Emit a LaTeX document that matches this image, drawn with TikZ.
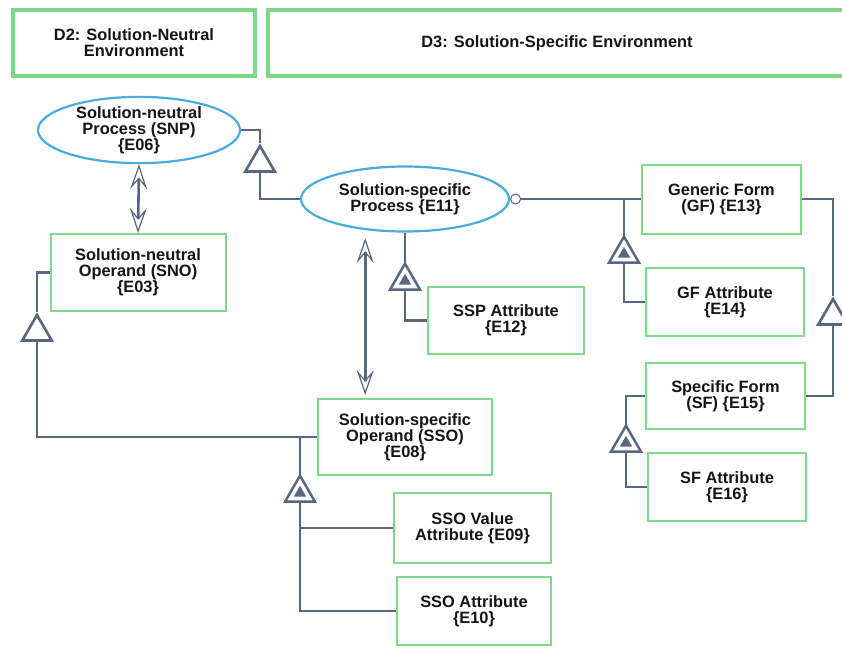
\documentclass[tikz,border=0pt]{standalone}
\usepackage{fontspec}
\setmainfont{Liberation Sans}
\usetikzlibrary{shapes.geometric,arrows.meta,backgrounds}
\definecolor{envgreen}{RGB}{122,216,134}
\definecolor{boxgreen}{RGB}{128,218,140}
\definecolor{procblue}{RGB}{72,172,222}
\definecolor{linkgray}{RGB}{88,103,128}
\definecolor{txtblack}{RGB}{20,20,20}

\begin{document}
\begin{tikzpicture}[x=1pt,y=-1pt]
        \tikzset{
            every node/.style={font=\bfseries\fontsize{16.4}{15.8}\selectfont,text=txtblack,align=center,inner sep=0pt},
            style env/.style={draw=envgreen,line width=4pt,minimum height=66pt},
            style object/.style={draw=boxgreen,line width=2pt,fill=white},
            style process/.style={ellipse,draw=procblue,line width=2.2pt,fill=white},
            style link/.style={draw=linkgray,line width=2.6pt},
            style assoc/.style={style link,{Stealth[open,length=25pt,width=17pt,inset=10pt,line width=1.2pt]}-{Stealth[open,length=25pt,width=17pt,inset=10pt,line width=1.2pt]}},
            style spec/.style={regular polygon,regular polygon sides=3,minimum size=34pt,draw=linkgray,line width=2.6pt,fill=white},
            style aggr/.style={regular polygon,regular polygon sides=3,minimum size=22pt,draw=linkgray,line width=2.6pt,fill=linkgray,double=white,double distance=3.6pt},
            style ring/.style={circle,minimum size=10pt,draw=linkgray,line width=1pt,fill=white}
        };
        \useasboundingbox (0,0) rectangle (842,648);

        \node[style env,minimum width=242pt] (d2) at (134,43) {D2: Solution-Neutral\\Environment};
        \node[style env,minimum width=578pt] (d3) at (557,43) {D3: Solution-Specific Environment};

        \node[style process,minimum width=202pt,minimum height=64pt] (snp) at (139,130) {Solution-neutral\\Process (SNP)\\\{E06\}};
        \node[style process,minimum width=208pt,minimum height=65pt] (ssp) at (405,199) {Solution-specific\\Process \{E11\}};

        \node[style object,minimum width=175pt,minimum height=77pt] (sno) at (138,272.5) {Solution-neutral\\Operand (SNO)\\\{E03\}};
        \node[style object,minimum width=156pt,minimum height=67pt] (sspattr) at (506,320.5) {SSP Attribute\\\{E12\}};
        \node[style object,minimum width=159pt,minimum height=69pt] (gf) at (721.5,199) {Generic Form\\(GF) \{E13\}};
        \node[style object,minimum width=158pt,minimum height=68pt] (gfattr) at (725,302) {GF Attribute\\\{E14\}};
        \node[style object,minimum width=159pt,minimum height=66pt] (sf) at (725.5,396) {Specific Form\\(SF) \{E15\}};
        \node[style object,minimum width=158pt,minimum height=68pt] (sfattr) at (727,487) {SF Attribute\\\{E16\}};
        \node[style object,minimum width=174pt,minimum height=76pt] (sso) at (405,437) {Solution-specific\\Operand (SSO)\\\{E08\}};
        \node[style object,minimum width=157pt,minimum height=70pt] (ssoval) at (472.5,528) {SSO Value\\Attribute \{E09\}};
        \node[style object,minimum width=154pt,minimum height=68pt] (ssoattr) at (474,611) {SSO Attribute\\\{E10\}};

        \node[style spec] (g1) at (260,163) {};
        \node[style spec] (g2) at (37,332) {};
        \node[style spec] (g3) at (833,316) {};
        \node[style aggr] (a1) at (405,281) {};
        \node[style aggr] (a2) at (624,254) {};
        \node[style aggr] (a3) at (626,443) {};
        \node[style aggr] (a4) at (300,493) {};
        \node[style ring,anchor=west] (o1) at (ssp.east) {};

        \coordinate (j2) at (a2.corner 1 |- gf.west);
        \coordinate (j4) at (a4.corner 1 |- sso.west);

        \begin{scope}[on background layer]
            \draw[style link] (snp.east) -| (g1.corner 1);
            \draw[style link] (g1.side 2) |- (ssp.west);
            \draw[style link] (sno.west) -| (g2.corner 1);
            \draw[style link] (g2.side 2) |- (sso.west);
            \draw[style link] (ssp.south) -- (a1.corner 1);
            \draw[style link] (a1.side 2) |- (sspattr.west);
            \draw[style link] (o1) -- (gf.west);
            \draw[style link] (j2) -- (a2.corner 1);
            \draw[style link] (a2.side 2) |- (gfattr.west);
            \draw[style link] (gf.east) -| (g3.corner 1);
            \draw[style link] (g3.side 2) |- (sf.east);
            \draw[style link] (sf.west) -| (a3.corner 1);
            \draw[style link] (a3.side 2) |- (sfattr.west);
            \draw[style link] (j4) -- (a4.corner 1);
            \draw[style link] (a4.side 2) |- (ssoval.west);
            \draw[style link] (a4.side 2) |- (ssoattr.west);
        \end{scope}

        \draw[style assoc] (snp.south) -- (sno.north);
        \draw[style assoc,shorten <=8pt,shorten >=3pt] (ssp.218) -- (ssp.218 |- sso.north);
    \end{tikzpicture}
\end{document}
